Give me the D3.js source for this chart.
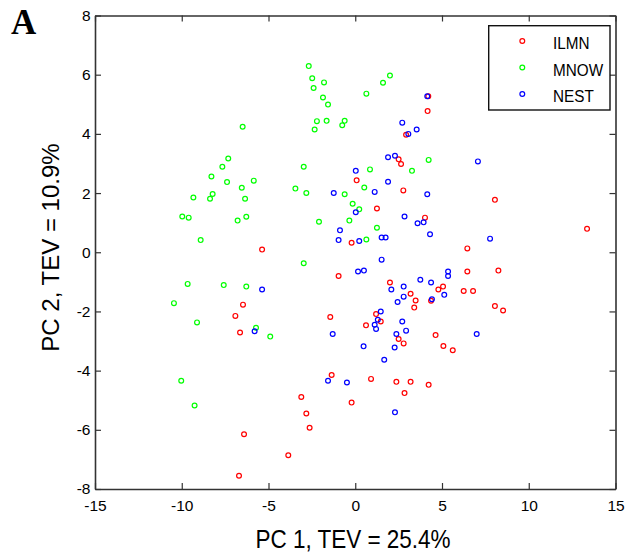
<!DOCTYPE html>
<html>
<head>
<meta charset="utf-8">
<script src="https://cdn.jsdelivr.net/npm/d3@7"></script>
<style>
  body { margin: 0; background: #fff; }
  svg { display: block; font-family: "Liberation Sans", Arial, sans-serif; }
</style>
</head>
<body>
<svg width="627" height="555"></svg>
<script>
// PC1 / PC2 scores, one array per platform
var ilmn = [
  [-5.37,0.09],[-6.47,-1.77],[-6.91,-2.15],[-6.64,-2.71],[-3.11,-4.89],[-2.82,-5.45],[-2.63,-5.93],
  [-6.41,-6.15],[-3.86,-6.86],[-6.70,-7.55],[4.21,5.27],[4.17,4.77],[2.93,3.97],[2.50,3.14],[2.64,2.98],
  [0.08,2.43],[2.77,2.09],[1.25,1.48],[4.02,1.17],[-0.21,0.32],[8.05,1.77],[13.36,0.79],[6.46,0.13],
  [-0.96,-0.80],[6.46,-0.65],[8.25,-0.62],[2.00,-1.02],[4.79,-1.26],[5.06,-1.16],[6.25,-1.31],[6.79,-1.31],
  [3.19,-1.40],[3.48,-1.63],[3.40,-1.87],[4.37,-1.64],[8.05,-1.82],[8.52,-1.97],[-1.44,-2.19],[1.20,-2.09],
  [1.47,-2.34],[0.62,-2.47],[4.63,-2.80],[2.50,-2.93],[2.79,-3.08],[5.08,-3.17],[5.62,-3.31],[-1.36,-4.15],
  [0.91,-4.28],[2.37,-4.38],[3.19,-4.38],[4.23,-4.48],[2.84,-4.76],[-0.21,-5.08]
];
var mnow = [
  [-2.68,6.29],[-2.48,5.88],[-2.40,5.55],[-2.21,4.43],[-2.34,4.15],[-6.49,4.24],[-7.32,3.17],[-7.66,2.89],
  [-8.29,2.56],[-7.39,2.37],[-5.85,2.42],[-6.54,2.18],[-6.35,1.81],[-8.22,1.97],[-8.37,1.81],[-9.33,1.85],
  [-9.97,1.21],[-9.60,1.17],[-6.78,1.07],[-6.28,1.20],[-8.91,0.41],[-2.97,2.89],[-3.45,2.15],[-2.82,2.00],
  [-2.09,1.03],[-2.97,-0.37],[-9.66,-1.07],[-7.58,-1.11],[-6.28,-1.16],[-10.45,-1.72],[-9.12,-2.37],
  [-5.72,-2.55],[-4.90,-2.85],[-10.03,-4.34],[-9.26,-5.18],[-1.80,5.74],[-1.86,5.23],[-1.57,4.99],
  [-1.65,4.44],[-0.61,4.44],[-0.75,4.29],[0.64,5.36],[1.60,5.73],[2.00,5.97],[0.85,2.80],[0.52,2.19],
  [-0.61,1.96],[-0.15,1.64],[0.23,1.45],[-0.34,1.07],[1.25,0.83],[0.64,0.43],[3.27,2.75],[4.23,3.12]
];
var nest = [
  [-5.37,-1.26],[-5.80,-2.67],[4.15,5.27],[2.71,4.38],[3.54,4.15],[3.06,4.00],[1.89,3.21],[2.29,3.26],
  [7.07,3.07],[0.03,2.75],[1.89,2.38],[-1.24,2.00],[1.12,2.04],[4.15,1.96],[0.03,1.35],[2.84,1.21],
  [3.59,0.98],[3.94,1.01],[4.31,0.61],[-0.88,0.74],[-0.96,0.41],[0.23,0.38],[1.52,0.50],[1.75,0.50],
  [7.77,0.46],[1.52,-0.25],[0.16,-0.65],[0.50,-0.62],[5.35,-0.65],[5.35,-0.80],[3.75,-0.93],[4.37,-1.02],
  [2.08,-1.26],[2.79,-1.16],[2.79,-1.50],[2.44,-1.68],[5.13,-1.44],[4.42,-1.59],[1.47,-2.00],[1.30,-2.28],
  [1.12,-2.45],[1.20,-2.59],[2.71,-2.34],[2.93,-2.65],[2.37,-2.76],[-1.30,-2.76],[7.00,-2.76],[0.48,-3.18],
  [2.27,-3.22],[1.67,-3.63],[-1.57,-4.34],[-0.48,-4.40],[2.29,-5.41]
];
var seriesNames = ["ILMN", "MNOW", "NEST"];
var seriesColors = ["#ff0000", "#00ff00", "#0000ff"];
var xTicks = [-15, -10, -5, 0, 5, 10, 15];
var yTicks = [-8, -6, -4, -2, 0, 2, 4, 6, 8];

var svg = d3.select("svg");
var m = {left: 95, right: 615.5, top: 15.5, bottom: 489};

var x = d3.scaleLinear().domain([-15, 15]).range([m.left, m.right]);
var y = d3.scaleLinear().domain([-8, 8]).range([m.bottom, m.top]);

// axes, MATLAB style box with inward ticks on all sides
function styleAxis(g) {
  g.attr("font-size", null).attr("font-family", null);
  g.select(".domain").attr("stroke", "#333").attr("stroke-width", 1.6);
  g.selectAll(".tick line").attr("stroke", "#333").attr("stroke-width", 1.2);
  g.selectAll(".tick text").attr("fill", "#000").style("font-size", "15.5px");
}
svg.append("g").attr("transform", "translate(0," + m.bottom + ")")
  .call(d3.axisBottom(x).tickValues(xTicks).tickFormat(d => String(d)).tickSizeInner(-6).tickSizeOuter(0).tickPadding(11))
  .call(styleAxis);
svg.append("g").attr("transform", "translate(" + m.left + ",0)")
  .call(d3.axisLeft(y).tickValues(yTicks).tickFormat(d => String(d)).tickSizeInner(-6).tickSizeOuter(0).tickPadding(4.5))
  .call(styleAxis);
svg.append("g").attr("transform", "translate(0," + m.top + ")")
  .call(d3.axisTop(x).tickValues(xTicks).tickFormat("").tickSizeInner(-6).tickSizeOuter(0))
  .call(styleAxis);
svg.append("g").attr("transform", "translate(" + m.right + ",0)")
  .call(d3.axisRight(y).tickValues(yTicks).tickFormat("").tickSizeInner(-6).tickSizeOuter(0))
  .call(styleAxis);

// points
[ilmn, mnow, nest].forEach((data, i) => {
  svg.append("g").selectAll("circle")
    .data(data)
    .enter().append("circle")
    .attr("cx", d => x(d[0]))
    .attr("cy", d => y(d[1]))
    .attr("r", 2.4)
    .attr("fill", "none")
    .attr("stroke", seriesColors[i])
    .attr("stroke-width", 1.2);
});

// legend
var legend = svg.append("g");
legend.append("rect")
  .attr("x", 488.7).attr("y", 25.7).attr("width", 121.3).attr("height", 84.3)
  .attr("fill", "#fff").attr("stroke", "#111").attr("stroke-width", 1.4);
seriesNames.forEach((name, i) => {
  var ly = 41 + i * 26.5;
  legend.append("circle").attr("cx", 522.3).attr("cy", ly).attr("r", 2.4)
    .attr("fill", "none").attr("stroke", seriesColors[i]).attr("stroke-width", 1.2);
  legend.append("text").attr("x", 553).attr("y", ly + 8.5)
    .style("font-size", "17px").attr("transform", "translate(553,0) scale(0.9,1) translate(-553,0)")
    .text(name);
});

// axis titles
svg.append("text")
  .attr("text-anchor", "middle")
  .attr("transform", "translate(353,548) scale(0.9,1)")
  .style("font-size", "25px")
  .text("PC 1, TEV = 25.4%");
svg.append("text")
  .attr("text-anchor", "middle")
  .attr("transform", "translate(59,247.5) rotate(-90)")
  .style("font-size", "24px")
  .text("PC 2, TEV = 10.9%");

// panel letter
svg.append("text")
  .attr("x", 11).attr("y", 34)
  .style("font-family", "'Liberation Serif', 'Times New Roman', serif")
  .style("font-weight", "bold")
  .style("font-size", "35px")
  .text("A");
</script>
</body>
</html>
